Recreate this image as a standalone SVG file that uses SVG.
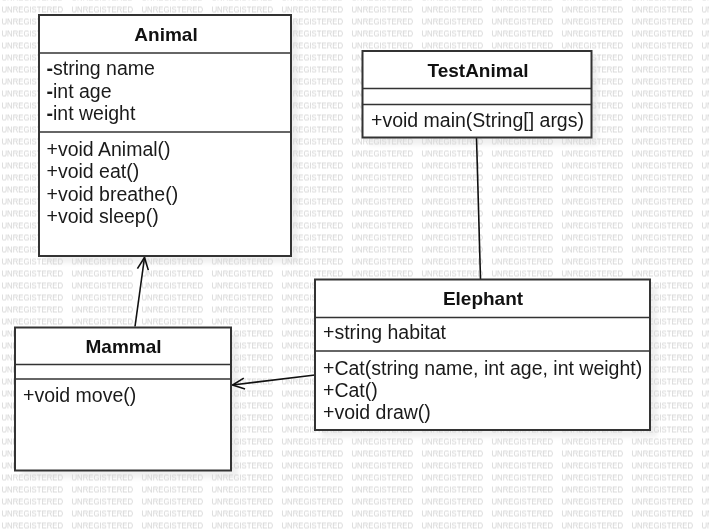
<svg xmlns="http://www.w3.org/2000/svg" width="709" height="531" viewBox="0 0 709 531">
<style>
.box{fill:#fff;stroke:#333;stroke-width:2}
.div{stroke:#333;stroke-width:1.6}
.sh{fill:#000;opacity:0.06}
.title{font-family:"Liberation Sans",Arial,sans-serif;font-size:19px;font-weight:bold;fill:#111;text-anchor:middle}
.t{font-family:"Liberation Sans",Arial,sans-serif;font-size:19.5px;fill:#1a1a1a}
.b{font-weight:bold}
.wm{font-family:"Liberation Sans",Arial,sans-serif;font-size:9.5px;fill:#d3d3d3}
.conn{stroke:#111;stroke-width:1.6;fill:none}
</style>
<defs>
<pattern id="wmp" x="0" y="0.5" width="70" height="12" patternUnits="userSpaceOnUse">
<text class="wm" x="1.5" y="12" textLength="61.5" lengthAdjust="spacingAndGlyphs">UNREGISTERED</text>
</pattern>
<filter id="blur" x="-10%" y="-10%" width="120%" height="120%"><feGaussianBlur stdDeviation="2"/></filter>
<marker id="open" viewBox="-14 -7 16 14" markerWidth="16" markerHeight="14" refX="0" refY="0" orient="auto" markerUnits="userSpaceOnUse">
<path d="M-12,-5.5 L0,0 L-12,5.5" fill="none" stroke="#111" stroke-width="1.6"/>
</marker>
</defs>
<rect width="709" height="531" fill="#fff"/>
<g id="shadows" filter="url(#blur)">
<rect class="sh" x="46" y="22" width="252" height="241"/>
<rect class="sh" x="369" y="58" width="229" height="87"/>
<rect class="sh" x="322" y="286" width="335" height="151"/>
<rect class="sh" x="22" y="334" width="216" height="144"/>
</g>
<rect width="709" height="531" fill="url(#wmp)"/>
<g id="connectors">
<line class="conn" x1="135" y1="326.5" x2="144.5" y2="257.5" marker-end="url(#open)"/>
<line class="conn" x1="315" y1="375" x2="232.5" y2="385" marker-end="url(#open)"/>
<line class="conn" x1="476.5" y1="137.5" x2="480.5" y2="279"/>
</g>
<g id="Animal">
<rect class="box" x="39" y="15" width="252" height="241"/>
<line class="div" x1="39" y1="53" x2="291" y2="53"/>
<line class="div" x1="39" y1="132" x2="291" y2="132"/>
<text class="title" x="166" y="41">Animal</text>
<text class="t" x="46.5" y="75"><tspan class="b">-</tspan>string name</text>
<text class="t" x="46.5" y="97.5"><tspan class="b">-</tspan>int age</text>
<text class="t" x="46.5" y="120"><tspan class="b">-</tspan>int weight</text>
<text class="t" x="46.5" y="155.5">+void Animal()</text>
<text class="t" x="46.5" y="178">+void eat()</text>
<text class="t" x="46.5" y="200.5">+void breathe()</text>
<text class="t" x="46.5" y="223">+void sleep()</text>
</g>
<g id="TestAnimal">
<rect class="box" x="362.5" y="51" width="229" height="86.5"/>
<line class="div" x1="362.5" y1="88.5" x2="591.5" y2="88.5"/>
<line class="div" x1="362.5" y1="104.5" x2="591.5" y2="104.5"/>
<text class="title" x="478" y="77">TestAnimal</text>
<text class="t" x="371" y="126.5">+void main(String[] args)</text>
</g>
<g id="Elephant">
<rect class="box" x="315" y="279.5" width="335" height="150.5"/>
<line class="div" x1="315" y1="317.5" x2="650" y2="317.5"/>
<line class="div" x1="315" y1="351" x2="650" y2="351"/>
<text class="title" x="483" y="305">Elephant</text>
<text class="t" x="323" y="339">+string habitat</text>
<text class="t" x="323" y="374.5">+Cat(string name, int age, int weight)</text>
<text class="t" x="323" y="396.8">+Cat()</text>
<text class="t" x="323" y="419">+void draw()</text>
</g>
<g id="Mammal">
<rect class="box" x="15" y="327.5" width="216" height="143"/>
<line class="div" x1="15" y1="364.5" x2="231" y2="364.5"/>
<line class="div" x1="15" y1="379" x2="231" y2="379"/>
<text class="title" x="123.5" y="352.5">Mammal</text>
<text class="t" x="23" y="401.5">+void move()</text>
</g>
</svg>
